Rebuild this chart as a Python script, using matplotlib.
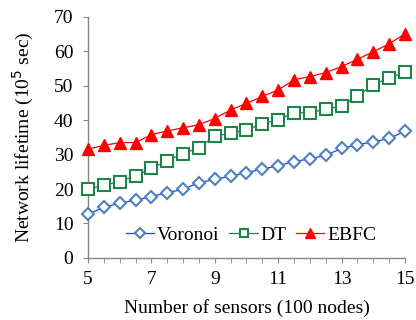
import matplotlib
matplotlib.use("Agg")
import matplotlib.pyplot as plt
import numpy as np

plt.rcParams['font.family'] = ['Liberation Serif', 'DejaVu Serif']

x = [5, 5.5, 6, 6.5, 7, 7.5, 8, 8.5, 9, 9.5, 10, 10.5, 11, 11.5, 12, 12.5, 13, 13.5, 14, 14.5, 15]
voronoi = [12.7, 14.7, 15.9, 16.8, 17.8, 19.0, 19.9, 21.9, 22.8, 23.8, 24.8, 25.8, 26.8, 28.0, 28.8, 29.8, 31.8, 32.9, 33.7, 34.7, 36.8]
dt = [20.0, 21.1, 22.2, 23.8, 26.0, 28.3, 30.3, 32.0, 35.4, 36.2, 37.2, 39.0, 40.1, 42.2, 42.2, 43.2, 44.1, 47.1, 50.2, 52.4, 53.9]
ebfc = [31.6, 32.7, 33.5, 33.5, 35.8, 36.9, 37.8, 38.7, 40.5, 43.0, 44.9, 46.9, 48.8, 51.7, 52.7, 53.8, 55.6, 57.7, 59.9, 62.2, 65.1]

xticks = [5, 7, 9, 11, 13, 15]
yticks = [0, 10, 20, 30, 40, 50, 60, 70]

fig = plt.figure(figsize=(4.16, 3.2), dpi=100)
ax = fig.add_axes([0.2115, 0.194, 0.762, 0.753])

ax.plot(x, voronoi, color='#1f3fff', lw=0.9, marker='D', ms=6.5, mfc='white',
        mec='#4f81bd', mew=1.5, label='Voronoi', clip_on=False, zorder=3)
ax.plot(x, dt, color='#1e8449', lw=0.9, marker='s', ms=8, mfc='white',
        mec='#1e8449', mew=1.5, label='DT', clip_on=False, zorder=3)
ax.plot(x, ebfc, color='#ff0000', lw=0.9, marker='^', ms=9, mfc='#ff0000',
        mec='#ff0000', label='EBFC', clip_on=False, zorder=3)

ax.set_xlim(5, 15)
ax.set_ylim(0, 70)
ax.set_xticks(xticks)
ax.set_xticks(x, minor=True)
ax.set_yticks(yticks)
for s in ['top', 'right']:
    ax.spines[s].set_visible(False)
for s in ['left', 'bottom']:
    ax.spines[s].set_color('#868686')
    ax.spines[s].set_linewidth(1.0)
ax.tick_params(axis='both', which='both', direction='out', color='#868686', labelsize=14)
ax.tick_params(axis='x', which='major', length=3.5, pad=6)
ax.tick_params(axis='x', which='minor', length=3.5)
ax.tick_params(axis='y', which='major', length=3.5, pad=7)

ax.set_xlabel('Number of sensors (100 nodes)', fontsize=14, labelpad=8)
ax.set_ylabel('Network lifetime (10$^5$ sec)', fontsize=14, labelpad=13)

ax.legend(loc='lower center', bbox_to_anchor=(0.515, 0.025), ncol=3, frameon=False,
          fontsize=14, handlelength=1.45, handletextpad=0.15, columnspacing=0.5,
          borderaxespad=0.0, markerscale=0.75)

fig.savefig('out.png', dpi=100)
